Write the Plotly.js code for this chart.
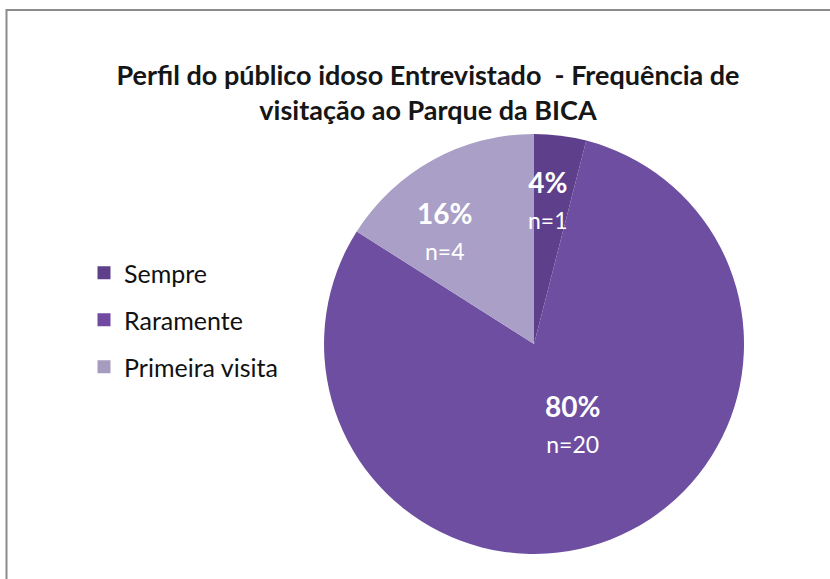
<!DOCTYPE html>
<html>
<head>
<meta charset="utf-8">
<script src="https://cdn.plot.ly/plotly-3.0.1.min.js"></script>
<style>html,body{margin:0;padding:0;background:#fff;}#chart{width:830px;height:579px;}</style>
</head>
<body>
<div id="chart"></div>
<script>
// ---- data ----
const categories = ["Sempre", "Raramente", "Primeira visita"];
const counts = [1, 20, 4];
const sliceColors = ["#5d3f8b", "#6d4ea0", "#aa9fc6"];
const legendColors = ["#5e3f8a", "#7149a1", "#a59cc0"];
const titleText = "Perfil do público idoso Entrevistado  - Frequência de<br>visitação ao Parque da BICA";

// ---- label placement style (fraction of radius, angle shift in degrees) ----
const labelRadius = [0.69, 0.42, 0.69];
const labelAngleShift = [-1.6, -4.1, -9.4];

const W = 830, H = 579;
const domX = [0.3904, 0.8964];
const domY = [0.0432, 0.7686];

const total = counts.reduce((a, b) => a + b, 0);
const pct = counts.map(v => Math.round(v / total * 100));

const pie = {
  type: "pie",
  labels: categories,
  values: counts,
  sort: false,
  direction: "clockwise",
  rotation: 0,
  textinfo: "none",
  hoverinfo: "label+value+percent",
  showlegend: false,
  marker: { colors: sliceColors, line: { width: 0 } },
  domain: { x: domX, y: domY }
};

const legendTraces = categories.map((c, i) => ({
  type: "scatter",
  mode: "markers",
  x: [null], y: [null],
  name: c,
  legendgroup: c,
  marker: { symbol: "square", size: 13, color: legendColors[i] },
  hoverinfo: "skip"
}));

// annotation positions derived from slice angles
const cx = (domX[0] + domX[1]) / 2 * W;
const cyPx = (1 - (domY[0] + domY[1]) / 2) * H;
const rPx = (domX[1] - domX[0]) * W / 2;
let cum = 0;
const annotations = counts.map((v, i) => {
  const mid = (cum + v / 2) / total * 360 + labelAngleShift[i];
  cum += v;
  const th = mid * Math.PI / 180;
  const px = cx + labelRadius[i] * rPx * Math.sin(th);
  const py = cyPx - labelRadius[i] * rPx * Math.cos(th);
  return {
    xref: "paper", yref: "paper",
    x: px / W, y: 1 - py / H,
    xanchor: "center", yanchor: "middle",
    showarrow: false,
    align: "center",
    text: "<b>" + pct[i] + "%</b><br><span style='font-size:23px'>n=" + v + "</span>",
    font: { family: "Lato, 'Open Sans', sans-serif", size: 28, color: "#ffffff" }
  };
});

const layout = {
  width: W, height: H,
  margin: { l: 0, r: 0, t: 0, b: 0 },
  paper_bgcolor: "#ffffff",
  plot_bgcolor: "#ffffff",
  title: {
    text: titleText,
    x: 428 / W, xanchor: "center",
    y: 1 - 85 / H, yanchor: "middle", yref: "paper",
    font: { family: "Lato, 'Open Sans', sans-serif", size: 27, color: "#161616", weight: "bold" }
  },
  xaxis: { visible: false, domain: [0, 0.01] },
  yaxis: { visible: false, domain: [0, 0.01] },
  showlegend: true,
  legend: {
    x: 84 / W, xanchor: "left",
    y: 1 - 320 / H, yanchor: "middle",
    traceorder: "grouped",
    tracegroupgap: 11.5,
    font: { family: "Lato, 'Open Sans', sans-serif", size: 25, color: "#111111" },
    bgcolor: "rgba(0,0,0,0)"
  },
  shapes: [{
    type: "rect", xref: "paper", yref: "paper",
    x0: 6.5 / W, x1: 1.05, y0: -0.05, y1: 1 - 10 / H,
    line: { color: "#8c8c8c", width: 2 },
    fillcolor: "rgba(0,0,0,0)"
  }],
  annotations: annotations
};

Plotly.newPlot("chart", [pie].concat(legendTraces), layout, { displayModeBar: false, staticPlot: true });
</script>
</body>
</html>
